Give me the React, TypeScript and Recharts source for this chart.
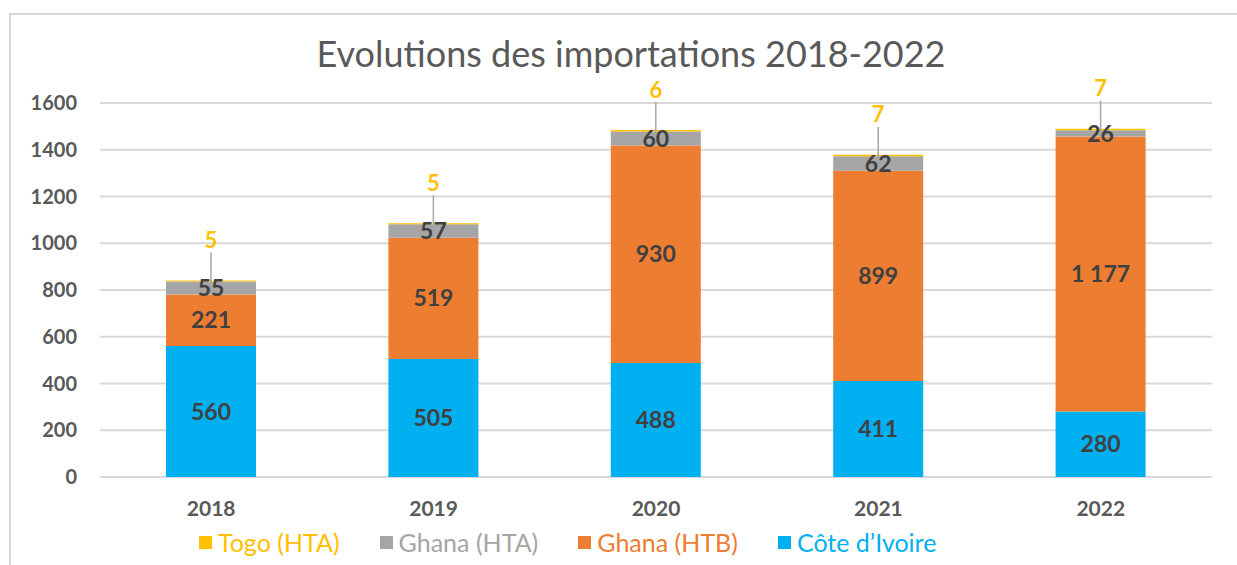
import { BarChart, Bar, XAxis, YAxis, CartesianGrid, LabelList } from 'recharts';

const years = ['2018', '2019', '2020', '2021', '2022'];
const coteIvoire = [560, 505, 488, 411, 280];
const ghanaHtb = [221, 519, 930, 899, 1177];
const ghanaHta = [55, 57, 60, 62, 26];
const togoHta = [5, 5, 6, 7, 7];
const yTicks = [0, 200, 400, 600, 800, 1000, 1200, 1400, 1600];

const FONT = 'Lato, "Open Sans", sans-serif';

// legend order as in the picture (top of stack first)
const series = [
    { key: 'togo', name: 'Togo (HTA)', color: '#FFC000' },
    { key: 'ghanaHta', name: 'Ghana (HTA)', color: '#A5A5A5' },
    { key: 'ghanaHtb', name: 'Ghana (HTB)', color: '#ED7D31' },
    { key: 'cote', name: 'Côte d\u2019Ivoire', color: '#00B0F0' },
];

const data = years.map((year, i) => ({
    year,
    cote: coteIvoire[i],
    ghanaHtb: ghanaHtb[i],
    ghanaHta: ghanaHta[i],
    togo: togoHta[i],
}));

const fmt = (v: any) => {
    const n = Number(v);
    return n >= 1000 ? `${Math.floor(n / 1000)} ${String(n % 1000).padStart(3, '0')}` : String(n);
};

// Togo values sit above the bar with a small leader line
const TogoLabel = (props: any) => {
    const { x, y, width, value } = props;
    const cx = x + width / 2;
    return (
        <g>
            <line x1={cx} y1={y - 28} x2={cx} y2={y + 3} stroke="#A6A6A6" strokeWidth={1.5} />
            <text x={cx} y={y - 41} textAnchor="middle" dominantBaseline="central"
                fill="#FFC000" fontSize={22} fontWeight={700} fontFamily={FONT}>
                {value}
            </text>
        </g>
    );
};

const labelStyle = { fill: '#404040', fontSize: 23, fontWeight: 700, fontFamily: FONT };

export default function App() {
    return (
        <div style={{ position: 'absolute', left: 0, top: 0, width: 1237, height: 565, background: '#fff', overflow: 'hidden', fontFamily: FONT }}>
            <div style={{ position: 'absolute', left: 9, top: 13, width: 1240, height: 560, border: '2px solid #D9D9D9', boxSizing: 'border-box' }} />
            <div style={{ position: 'absolute', left: 0, top: 36, width: 1262, textAlign: 'center', fontSize: 36, lineHeight: '34px', color: '#595959' }}>
                Evolutions des importations 2018-2022
            </div>
            <div style={{ position: 'absolute', left: 0, top: 0 }}>
                <BarChart width={1237} height={565} data={data}
                    margin={{ top: 103, right: 25, bottom: 48, left: 10 }}
                    barSize={90}>
                    <CartesianGrid vertical={false} stroke="#D9D9D9" strokeWidth={2} />
                    <XAxis dataKey="year" axisLine={false} tickLine={false} height={40} tickMargin={18}
                        tick={{ fill: '#595959', fontSize: 21, fontWeight: 700, fontFamily: FONT }} />
                    <YAxis width={90} domain={[0, 1600]} ticks={yTicks} axisLine={false} tickLine={false}
                        tickSize={0} tickMargin={23}
                        tick={{ fill: '#595959', fontSize: 20, fontWeight: 700, fontFamily: FONT }} />
                    <Bar dataKey="cote" stackId="a" fill="#00B0F0" isAnimationActive={false}>
                        <LabelList dataKey="cote" position="center" {...labelStyle} formatter={fmt} />
                    </Bar>
                    <Bar dataKey="ghanaHtb" stackId="a" fill="#ED7D31" isAnimationActive={false}>
                        <LabelList dataKey="ghanaHtb" position="center" {...labelStyle} formatter={fmt} />
                    </Bar>
                    <Bar dataKey="ghanaHta" stackId="a" fill="#A5A5A5" isAnimationActive={false}>
                        <LabelList dataKey="ghanaHta" position="center" {...labelStyle} formatter={fmt} />
                    </Bar>
                    <Bar dataKey="togo" stackId="a" fill="#FFC000" isAnimationActive={false}>
                        <LabelList dataKey="togo" content={TogoLabel} />
                    </Bar>
                </BarChart>
            </div>
            <div style={{ position: 'absolute', left: 199, top: 527, display: 'flex', gap: 40, fontSize: 25, whiteSpace: 'nowrap' }}>
                {series.map((s) => (
                    <div key={s.key} style={{ display: 'flex', alignItems: 'center', color: s.color }}>
                        <span style={{ display: 'inline-block', width: 13, height: 13, background: s.color, marginRight: 6 }} />
                        {s.name}
                    </div>
                ))}
            </div>
        </div>
    );
}
